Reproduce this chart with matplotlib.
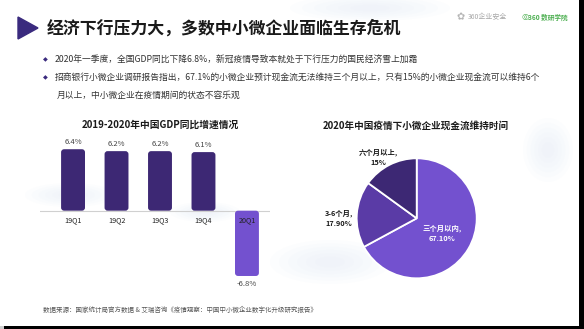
import matplotlib
matplotlib.use('Agg')
import matplotlib.pyplot as plt
from matplotlib.patches import FancyBboxPatch, Polygon, Rectangle, Ellipse

plt.rcParams['font.family'] = ['Noto Sans CJK SC', 'DejaVu Sans']

# GDP growth, year on year (%)
quarters = ['19Q1', '19Q2', '19Q3', '19Q4', '20Q1']
gdp_growth = [6.4, 6.2, 6.2, 6.1, -6.8]

# how long SMEs can keep cash flow going (%)
cash_labels = ['三个月以内', '3-6个月', '六个月以上']
cash_share = [67.10, 17.90, 15]
cash_fmt = ['{:.2f}%', '{:.2f}%', '{:.0f}%']

title = '经济下行压力大，多数中小微企业面临生存危机'
bullets = [
    '2020年一季度，全国GDP同比下降6.8%，新冠疫情导致本就处于下行压力的国民经济雪上加霜',
    '招商银行小微企业调研报告指出，67.1%的小微企业预计现金流无法维持三个月以上，只有15%的小微企业现金流可以维持6个',
]
bullet_cont = '月以上，中小微企业在疫情期间的状态不容乐观'
source = '数据来源：国家统计局官方数据 & 艾瑞咨询《疫情观察：中国中小微企业数字化升级研究报告》'

dark = '#3d2874'
mid = '#5a3ba6'
light = '#7351cf'

W, H = 584, 329
fig = plt.figure(figsize=(W / 100, H / 100), dpi=100)
fig.patch.set_facecolor('white')


def px_axes(zorder):
    # full-figure axes addressed in pixels, y pointing down
    a = fig.add_axes([0, 0, 1, 1], zorder=zorder)
    a.set_xlim(0, W)
    a.set_ylim(H, 0)
    a.axis('off')
    return a


bg = px_axes(0)

# faint clouds, built up from stacked translucent ellipses so the edges fade
for cx, cy, w, h in [(330, 262, 120, 44), (370, 8, 160, 26), (205, 212, 70, 20),
                     (548, 150, 50, 64), (70, 195, 90, 24)]:
    for k in range(6):
        s = 1 - k * 0.15
        bg.add_patch(Ellipse((cx, cy), w * s, h * s, color='#dfe8f8', alpha=0.08, lw=0))

bg.add_patch(Polygon([[18, 17], [18, 39], [38, 28]], closed=True, color='#3a2a7e'))
bg.text(47, 28.5, title, fontsize=12.2, fontweight='bold', color='#1a1a1a', va='center')

# logos
bg.text(461, 17, '✿', fontsize=7, color='#b5b5b5', ha='center', va='center',
        family=['DejaVu Sans'])
bg.text(468, 17, '360企业安全', fontsize=5, color='#a8a8a8', va='center')
bg.text(521, 17, '◎', fontsize=6, color='#4caf50', va='center', family=['DejaVu Sans'])
bg.text(528, 17, '360 数研学院', fontsize=4.8, color='#4caf50', va='center', fontweight='bold')

for y, line in zip([60, 77.5], bullets):
    bg.text(45, y, '◆', fontsize=4.5, color='#3a2a7e', ha='center', va='center',
            family=['DejaVu Sans'])
    bg.text(55, y, line, fontsize=6.3, color='#333333', va='center')
bg.text(57, 95, bullet_cont, fontsize=6.3, color='#333333', va='center')

bg.text(160, 125, '2019-2020年中国GDP同比增速情况', fontsize=7, fontweight='bold',
        color='#1a1a1a', ha='center', va='center')
bg.text(415.5, 125.5, '2020年中国疫情下小微企业现金流维持时间', fontsize=6.9,
        fontweight='bold', color='#1a1a1a', ha='center', va='center')

bg.text(43, 310, source, fontsize=4.7, color='#555555', va='center')

# frame edges
bg.add_patch(Rectangle((579, 0), 5, H, color='black', lw=0))
bg.add_patch(Rectangle((4, 326), W, 3, color='black', lw=0))
bg.add_patch(Rectangle((0, 326), 4, 3, color='#cfcfcf', lw=0))

# bar chart
ax = fig.add_axes([40 / W, 1 - 290 / H, 230 / W, 150 / H], zorder=1)
ax.patch.set_alpha(0)
ax.set_xlim(-0.76, 4.53)
ax.set_ylim(-8.26, 7.36)
ax.axis('off')
ax.axhline(0, color='#d0d0d0', lw=0.8, zorder=1)

x = range(len(quarters))
colors = [dark if v >= 0 else light for v in gdp_growth]
bars = ax.bar(x, gdp_growth, width=0.55, color=colors)
for b, c in zip(bars, colors):
    bx, by, bw, bh = b.get_x(), b.get_y(), b.get_width(), b.get_height()
    b.remove()
    if bh < 0:
        by, bh = by + bh, -bh
    ax.add_patch(FancyBboxPatch((bx, by), bw, bh,
                                boxstyle='round,pad=0,rounding_size=0.07',
                                mutation_aspect=4.5, color=c, lw=0, zorder=2))

for i, (q, v) in enumerate(zip(quarters, gdp_growth)):
    ax.text(i, -1.0, q, fontsize=5.2, color='#222222', ha='center', va='center', zorder=3)
    if v >= 0:
        ax.text(i, v + 0.7, f'{v:.1f}%', fontsize=5.5, color='#444444',
                ha='center', va='center')
    else:
        ax.text(i, v - 0.8, f'{v:.1f}%', fontsize=5.5, color='#444444',
                ha='center', va='center')

# pie chart
R = 60
pax = fig.add_axes([(416.7 - R) / W, 1 - (218.3 + R) / H, 2 * R / W, 2 * R / H], zorder=1)
pax.patch.set_alpha(0)
pax.pie(cash_share, colors=[light, mid, dark], startangle=90, counterclock=False,
        radius=1, wedgeprops=dict(edgecolor='white', linewidth=1.3))
pax.set_xlim(-1, 1)
pax.set_ylim(-1, 1)

top = px_axes(2)
label_pos = [(441.7, 233, 'white'), (339, 218, '#1a1a1a'), (378, 157, '#1a1a1a')]
for (lx, ly, lc), name, v, f in zip(label_pos, cash_labels, cash_share, cash_fmt):
    top.text(lx, ly, name + ',\n' + f.format(v), fontsize=5.3, fontweight='bold',
             color=lc, ha='center', va='center', linespacing=1.5)

fig.savefig('out.png', dpi=100)
